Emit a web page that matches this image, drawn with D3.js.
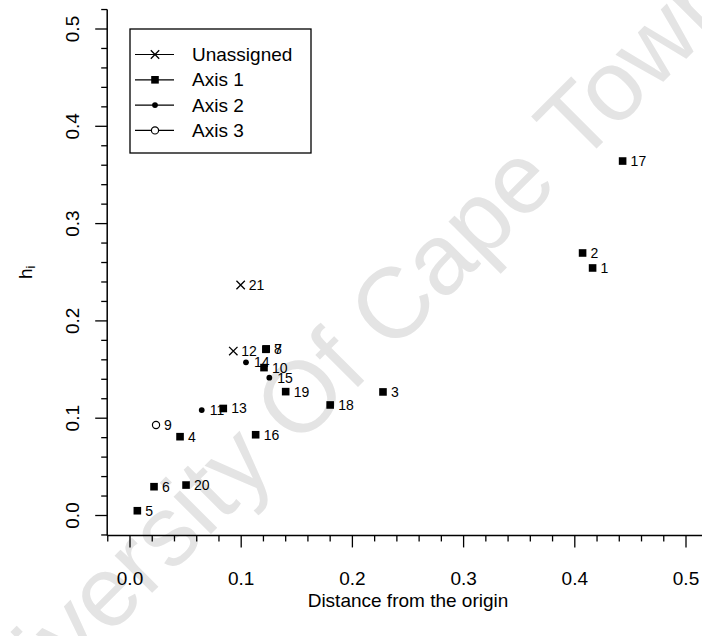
<!DOCTYPE html>
<html>
<head>
<meta charset="utf-8">
<script src="https://cdn.jsdelivr.net/npm/d3@7"></script>
<style>
  body { margin: 0; background: #fff; }
  text { font-family: 'Liberation Sans', Arial, sans-serif; }
</style>
</head>
<body>
<div id="chart"></div>
<script>
// values
var pointIds = ['1', '2', '3', '4', '5', '6', '7', '8', '9', '10', '11',
  '12', '13', '14', '15', '16', '17', '18', '19', '20', '21']
var distValues = [0.416, 0.407, 0.2275, 0.045, 0.0066, 0.0216, 0.1225, 0.1222,
  0.0234, 0.1205, 0.0645, 0.0929, 0.0839, 0.1043, 0.1253, 0.113, 0.443, 0.18,
  0.14, 0.0504, 0.0995]
var hValues = [0.2544, 0.2698, 0.127, 0.081, 0.0049, 0.0296, 0.1712, 0.1708,
  0.093, 0.152, 0.1084, 0.169, 0.11, 0.1574, 0.1417, 0.083, 0.3643, 0.1136,
  0.1273, 0.0313, 0.2369]
var pointGroups = ['Axis 1', 'Axis 1', 'Axis 1', 'Axis 1', 'Axis 1', 'Axis 1',
  'Axis 1', 'Axis 1', 'Axis 3', 'Axis 1', 'Axis 2', 'Unassigned', 'Axis 1',
  'Axis 2', 'Axis 2', 'Axis 1', 'Axis 1', 'Axis 1', 'Axis 1', 'Axis 1',
  'Unassigned']
var legendLabels = ['Unassigned', 'Axis 1', 'Axis 2', 'Axis 3']
var majorTicks = [0, 0.1, 0.2, 0.3, 0.4, 0.5]

var width = 702
var height = 636

var svg = d3
  .select('#chart')
  .append('svg')
  .attr('width', width)
  .attr('height', height)

var x = d3.scaleLinear().domain([0, 0.5]).range([130, 686])
var y = d3.scaleLinear().domain([0, 0.5]).range([515.5, 29])

var axisX = x(-0.0205)
var axisY = y(-0.0205)

var datapoints = pointIds.map((id, i) => ({
  id: id,
  dist: distValues[i],
  h: hValues[i],
  group: pointGroups[i]
}))

// watermark
svg
  .append('text')
  .text('University Of Cape Town')
  .attr('transform', 'translate(355,390) rotate(-45)')
  .attr('text-anchor', 'middle')
  .attr('font-size', 100)
  .attr('fill', '#e4e4e4')

// minor ticks every 0.02
var minorTicks = d3.range(-1, 27).map(i => +(i * 0.02).toFixed(2))
var isMajor = d => majorTicks.some(m => Math.abs(m - d) < 1e-9)

// x axis
svg
  .append('line')
  .attr('x1', axisX)
  .attr('x2', width)
  .attr('y1', axisY)
  .attr('y2', axisY)
  .attr('stroke', 'black')
  .attr('stroke-width', 1.5)

svg
  .selectAll('.x-tick')
  .data(minorTicks.filter(d => x(d) <= width))
  .enter()
  .append('line')
  .attr('class', 'x-tick')
  .attr('x1', d => x(d))
  .attr('x2', d => x(d))
  .attr('y1', axisY)
  .attr('y2', d => axisY + (isMajor(d) ? 12 : 6))
  .attr('stroke', 'black')
  .attr('stroke-width', 1.3)

svg
  .selectAll('.x-label')
  .data(majorTicks)
  .enter()
  .append('text')
  .attr('class', 'x-label')
  .text(d => d.toFixed(1))
  .attr('x', d => x(d))
  .attr('y', axisY + 43)
  .attr('dominant-baseline', 'central')
  .attr('text-anchor', 'middle')
  .attr('font-size', 19)

svg
  .append('text')
  .text('Distance from the origin')
  .attr('x', x(0.25))
  .attr('y', axisY + 65)
  .attr('dominant-baseline', 'central')
  .attr('text-anchor', 'middle')
  .attr('font-size', 19)

// y axis
svg
  .append('line')
  .attr('x1', axisX)
  .attr('x2', axisX)
  .attr('y1', y(0.52))
  .attr('y2', axisY)
  .attr('stroke', 'black')
  .attr('stroke-width', 1.5)

svg
  .selectAll('.y-tick')
  .data(minorTicks)
  .enter()
  .append('line')
  .attr('class', 'y-tick')
  .attr('x1', axisX)
  .attr('x2', d => axisX - (isMajor(d) ? 12 : 6))
  .attr('y1', d => y(d))
  .attr('y2', d => y(d))
  .attr('stroke', 'black')
  .attr('stroke-width', 1.3)

svg
  .selectAll('.y-label')
  .data(majorTicks)
  .enter()
  .append('text')
  .attr('class', 'y-label')
  .text(d => d.toFixed(1))
  .attr('transform', d => `translate(${axisX - 35},${y(d)}) rotate(-90)`)
  .attr('dominant-baseline', 'central')
  .attr('text-anchor', 'middle')
  .attr('font-size', 19)

var yTitle = svg
  .append('text')
  .attr('transform', `translate(25,${y(0.25)}) rotate(-90)`)
  .attr('dominant-baseline', 'central')
  .attr('text-anchor', 'middle')
  .attr('font-size', 19)
yTitle.append('tspan').text('h')
yTitle
  .append('tspan')
  .text('i')
  .attr('font-size', 13)
  .attr('dy', 5)

// draws one marker of the given group at px, py
function drawMarker(g, group, px, py) {
  if (group === 'Unassigned') {
    let s = 4.2
    g.append('path')
      .attr('d', `M${px - s},${py - s}L${px + s},${py + s}M${px - s},${py + s}L${px + s},${py - s}`)
      .attr('stroke', 'black')
      .attr('stroke-width', 1.3)
  } else if (group === 'Axis 1') {
    g.append('rect')
      .attr('x', px - 3.8)
      .attr('y', py - 3.8)
      .attr('width', 7.6)
      .attr('height', 7.6)
      .attr('fill', 'black')
  } else if (group === 'Axis 2') {
    g.append('circle')
      .attr('cx', px)
      .attr('cy', py)
      .attr('r', 2.9)
      .attr('fill', 'black')
  } else {
    g.append('circle')
      .attr('cx', px)
      .attr('cy', py)
      .attr('r', 3.6)
      .attr('fill', 'white')
      .attr('stroke', 'black')
      .attr('stroke-width', 1.2)
  }
}

// point labels first, markers over them
svg
  .selectAll('.point-label')
  .data(datapoints)
  .enter()
  .append('text')
  .attr('class', 'point-label')
  .text(d => d.id)
  .attr('x', d => x(d.dist) + 8)
  .attr('y', d => y(d.h))
  .attr('dominant-baseline', 'central')
  .attr('font-size', 14)

var markers = svg.append('g')
datapoints.forEach(d => drawMarker(markers, d.group, x(d.dist), y(d.h)))

// legend
var legend = svg.append('g')
legend
  .append('rect')
  .attr('x', 130)
  .attr('y', 29)
  .attr('width', 181)
  .attr('height', 124)
  .attr('fill', 'white')
  .attr('stroke', 'black')
  .attr('stroke-width', 1.3)

legendLabels.forEach((label, i) => {
  let ly = 54.5 + i * 25.3
  legend
    .append('line')
    .attr('x1', 135)
    .attr('x2', 174)
    .attr('y1', ly)
    .attr('y2', ly)
    .attr('stroke', 'black')
    .attr('stroke-width', 1.2)
  drawMarker(legend, label, 155, ly)
  legend
    .append('text')
    .text(label)
    .attr('x', 192)
    .attr('y', ly)
    .attr('dominant-baseline', 'central')
    .attr('font-size', 19)
})
</script>
</body>
</html>
